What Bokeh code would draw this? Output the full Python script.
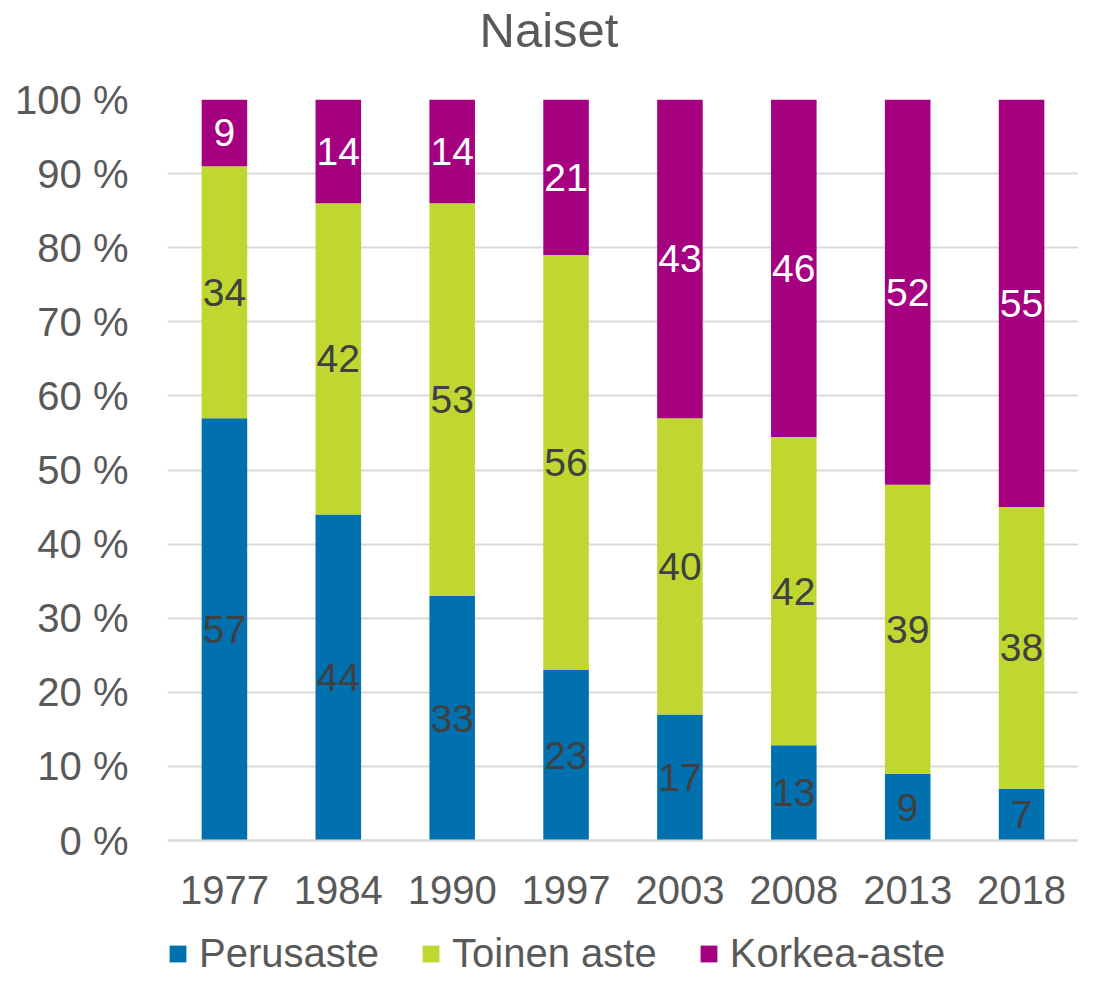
from bokeh.plotting import figure
from bokeh.models import ColumnDataSource, Legend, LegendItem, Range1d, FactorRange, Title
from bokeh.core.properties import value
from bokeh.embed import file_html
from bokeh.resources import INLINE

years = ["1977", "1984", "1990", "1997", "2003", "2008", "2013", "2018"]
series_names = ["Perusaste", "Toinen aste", "Korkea-aste"]
perusaste = [57, 44, 33, 23, 17, 13, 9, 7]
toinen_aste = [34, 42, 53, 56, 40, 42, 39, 38]
korkea_aste = [9, 14, 14, 21, 43, 46, 52, 55]
y_ticks = [0, 10, 20, 30, 40, 50, 60, 70, 80, 90, 100]

colors = ["#0070AF", "#BFD730", "#A5007F"]
label_colors = ["#404040", "#404040", "#FFFFFF"]
FONT = "Liberation Sans"
GRAY = "#595959"

raw = [perusaste, toinen_aste, korkea_aste]
keys = ["p", "t", "k"]
totals = [sum(v) for v in zip(*raw)]
data = {"x": years}
for k, vals in zip(keys, raw):
    data[k] = [v / tot * 100 for v, tot in zip(vals, totals)]
source = ColumnDataSource(data)

# the frame reaches the canvas bottom; the x axis sits at y = 0 and the
# area below it holds the year labels and the legend
p = figure(
    x_range=FactorRange(*years), y_range=Range1d(-18.35, 100),
    width=1078, height=976, output_backend="svg", toolbar_location=None,
    min_border_left=167, min_border_right=0, min_border_top=99, min_border_bottom=0,
)
p.frame_width = 911
p.frame_height = 877

# spacer panel nearest the frame, then the title above it
p.add_layout(Title(text=" ", text_font=FONT, text_font_size="36px", standoff=0), "above")
p.add_layout(Title(text="Naiset", align="left", offset=312, standoff=0,
                   text_font=FONT, text_font_size="49px", text_font_style="normal",
                   text_color=GRAY), "above")

renderers = p.vbar_stack(keys, x="x", width=0.4, color=colors, line_color=None, source=source)

# data labels
for i, (k, vals) in enumerate(zip(keys, raw)):
    mids = []
    for j in range(len(years)):
        below = sum(data[kk][j] for kk in keys[:i])
        mids.append(below + data[k][j] / 2)
    lsrc = ColumnDataSource(dict(x=years, y=mids, t=[str(v) for v in vals]))
    p.text(x="x", y="y", text="t", source=lsrc, text_align="center", text_baseline="middle",
           text_font=value(FONT), text_font_size="39px", text_color=label_colors[i])

legend = Legend(
    items=[LegendItem(label=n, renderers=[r]) for n, r in zip(series_names, renderers)],
    orientation="horizontal", location=(0, 0), padding=0, margin=0, spacing=41,
    glyph_width=21, glyph_height=21, label_standoff=11,
    label_text_font=FONT, label_text_font_size="40px", label_text_color=GRAY,
    border_line_color=None, background_fill_alpha=0,
)
p.add_layout(legend, "center")

p.outline_line_color = None
p.xgrid.grid_line_color = None
p.ygrid.grid_line_color = "#D9D9D9"
p.ygrid.grid_line_width = 2
p.yaxis.ticker = y_ticks
p.yaxis.major_label_overrides = {t: f"{t} %" for t in y_ticks}
p.yaxis.axis_line_color = None
p.yaxis.major_tick_line_color = None
p.yaxis.minor_tick_line_color = None
p.yaxis.major_tick_out = 0
p.yaxis.major_label_standoff = 39
p.yaxis.major_label_text_font = FONT
p.yaxis.major_label_text_font_size = "40px"
p.yaxis.major_label_text_color = GRAY

p.xaxis.fixed_location = 0
p.xaxis.axis_line_color = "#D9D9D9"
p.xaxis.axis_line_width = 2
p.xaxis.major_tick_line_color = None
p.xaxis.major_tick_out = 0
p.xaxis.major_label_standoff = 35
p.xaxis.major_label_text_font = FONT
p.xaxis.major_label_text_font_size = "40px"
p.xaxis.major_label_text_color = GRAY

open("out.html", "w").write(file_html(p, INLINE))
